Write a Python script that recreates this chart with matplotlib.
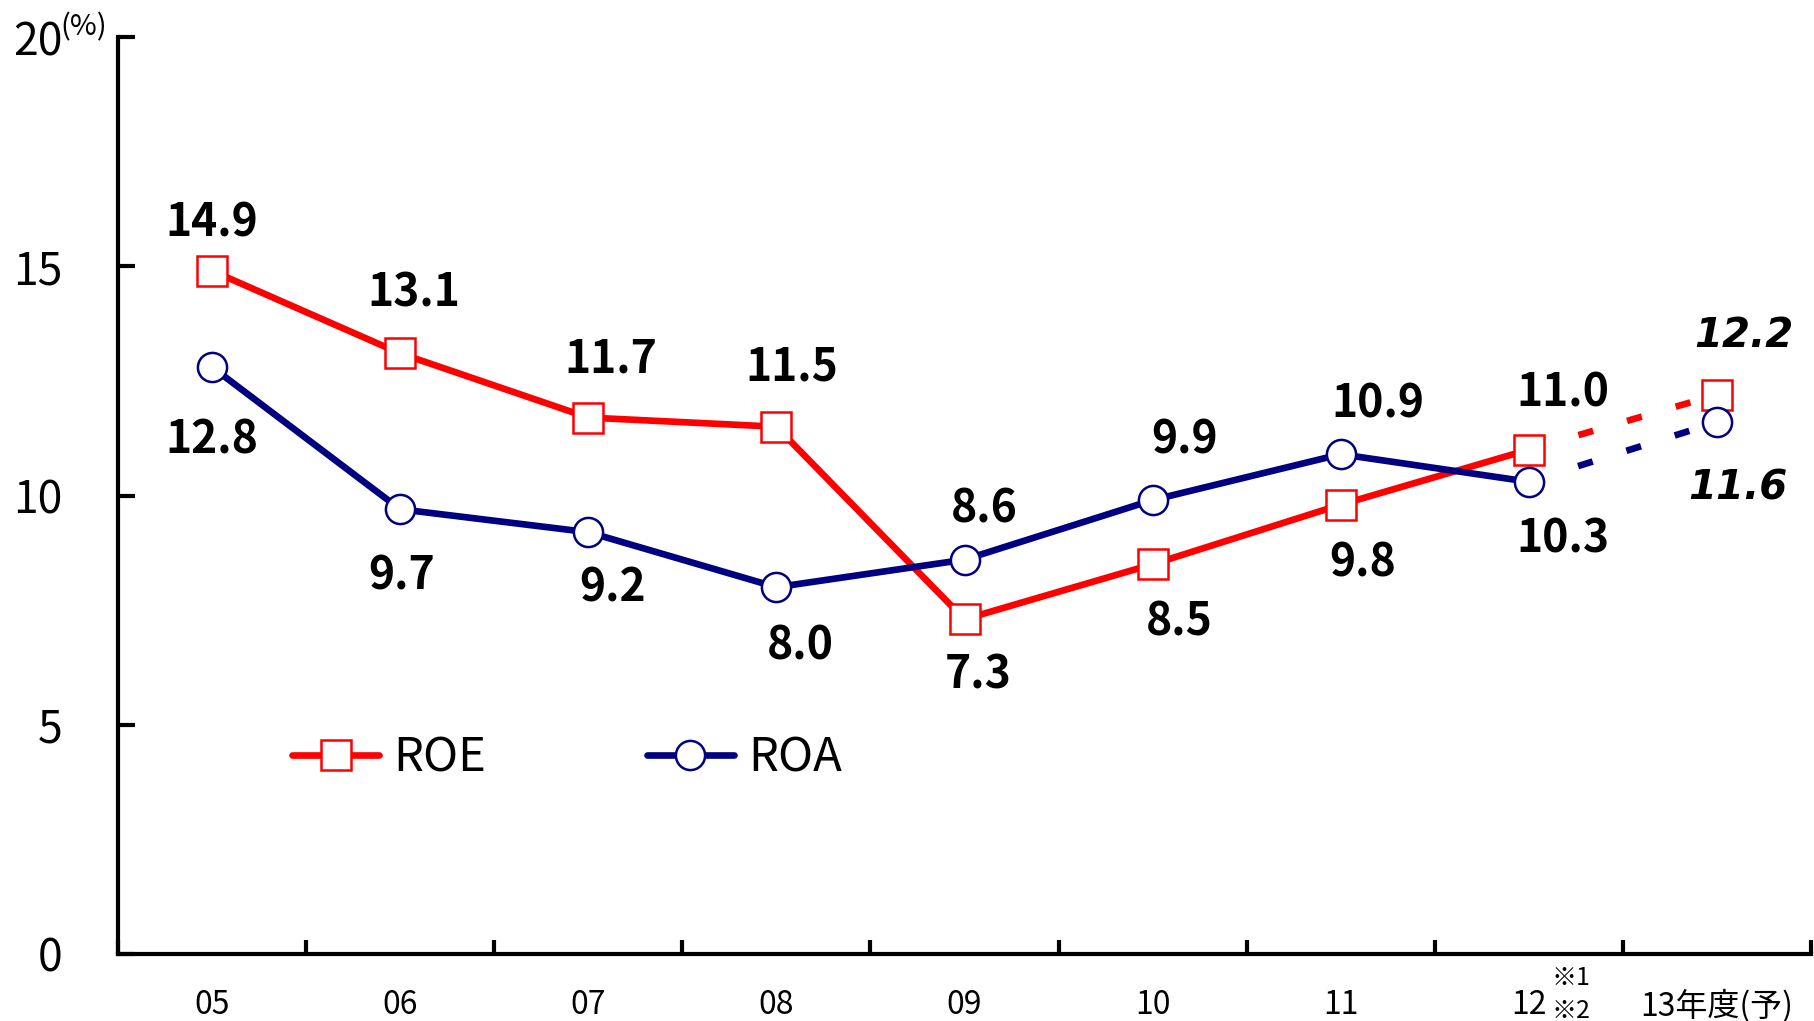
import matplotlib
matplotlib.use('Agg')
import matplotlib.pyplot as plt
from matplotlib.lines import Line2D

plt.rcParams['font.family'] = ['Noto Sans CJK JP', 'DejaVu Sans']

years = ['05', '06', '07', '08', '09', '10', '11', '12', '13年度(予)']
roe = [14.9, 13.1, 11.7, 11.5, 7.3, 8.5, 9.8, 11.0, 12.2]
roa = [12.8, 9.7, 9.2, 8.0, 8.6, 9.9, 10.9, 10.3, 11.6]

roe_off = [(0, 47), (14, 60), (23, 58), (15, 59), (14, -56), (27, -58), (22, -59), (34, 56), (27, 59)]
roa_off = [(0, -73), (1, -67), (24, -56), (24, -59), (20, 50), (32, 60), (37, 50), (34, -58), (21, -66)]

RED = '#ff0000'
NAVY = '#000080'

fig = plt.figure(figsize=(18.15, 10.21), dpi=100)
ax = fig.add_axes([118 / 1815, 1 - 954 / 1021, (1811 - 118) / 1815, (954 - 37) / 1021])

x = list(range(len(years)))
dotted = (22.75, (2.3, 5.3, 2.3, 5.3, 2.3, 13))
for vals, col, mk in [(roe, RED, 's'), (roa, NAVY, 'o')]:
    ax.plot(x[:8], vals[:8], color=col, lw=4.8, zorder=2)
    ax.plot(x[7:], vals[7:], color=col, lw=4.8, linestyle=dotted, zorder=2)
    ax.plot(x, vals, linestyle='none', marker=mk, markersize=21,
            markerfacecolor='white', markeredgecolor=col, markeredgewidth=1.8, zorder=3)

for vals, offs in [(roe, roe_off), (roa, roa_off)]:
    for i, (v, (dx, dy)) in enumerate(zip(vals, offs)):
        if i == 8:
            ax.annotate(f'{v:.1f}', (i, v), xytext=(dx, dy), textcoords='offset pixels',
                        ha='center', va='center', fontsize=29, fontweight='bold',
                        fontstyle='italic', family='DejaVu Sans')
        else:
            ax.annotate(f'{v:.1f}', (i, v), xytext=(dx, dy), textcoords='offset pixels',
                        ha='center', va='center', fontsize=32, fontweight='bold')

ax.set_xlim(-0.5, 8.5)
ax.set_ylim(0, 20)
for s in ['top', 'right']:
    ax.spines[s].set_visible(False)
for s in ['left', 'bottom']:
    ax.spines[s].set_linewidth(3)

ax.set_yticks([0, 5, 10, 15, 20])
ax.tick_params(axis='y', direction='in', length=12, width=3, pad=40, labelsize=32)
ax.set_xticks([i - 0.5 for i in range(10)])
ax.set_xticklabels([])
ax.tick_params(axis='x', which='major', direction='in', length=10, width=3)
ax.set_xticks(x, minor=True)
ax.set_xticklabels(years, minor=True)
ax.tick_params(axis='x', which='minor', length=0, pad=25, labelsize=23)

fig.text(84 / 1815, 1 - 27 / 1021, '(%)', fontsize=21, ha='center', va='center')
ax.annotate('※1', (7, 0), xycoords=('data', 'axes fraction'), xytext=(42, -24),
            textcoords='offset pixels', fontsize=18, ha='center', va='center')
ax.annotate('※2', (7, 0), xycoords=('data', 'axes fraction'), xytext=(42, -57),
            textcoords='offset pixels', fontsize=18, ha='center', va='center')

handles = [
    Line2D([], [], color=RED, lw=4.8, marker='s', markersize=21, markerfacecolor='white',
           markeredgecolor=RED, markeredgewidth=1.8, solid_capstyle='round'),
    Line2D([], [], color=NAVY, lw=4.8, marker='o', markersize=21, markerfacecolor='white',
           markeredgecolor=NAVY, markeredgewidth=1.8, solid_capstyle='round'),
]
ax.legend(handles, ['ROE', 'ROA'], loc='center left', bbox_to_anchor=(0.103, 0.213),
          ncol=2, frameon=False, fontsize=34, handlelength=1.84, handletextpad=0.3,
          columnspacing=3.4, borderpad=0, borderaxespad=0)

fig.savefig('out.png', dpi=100)
